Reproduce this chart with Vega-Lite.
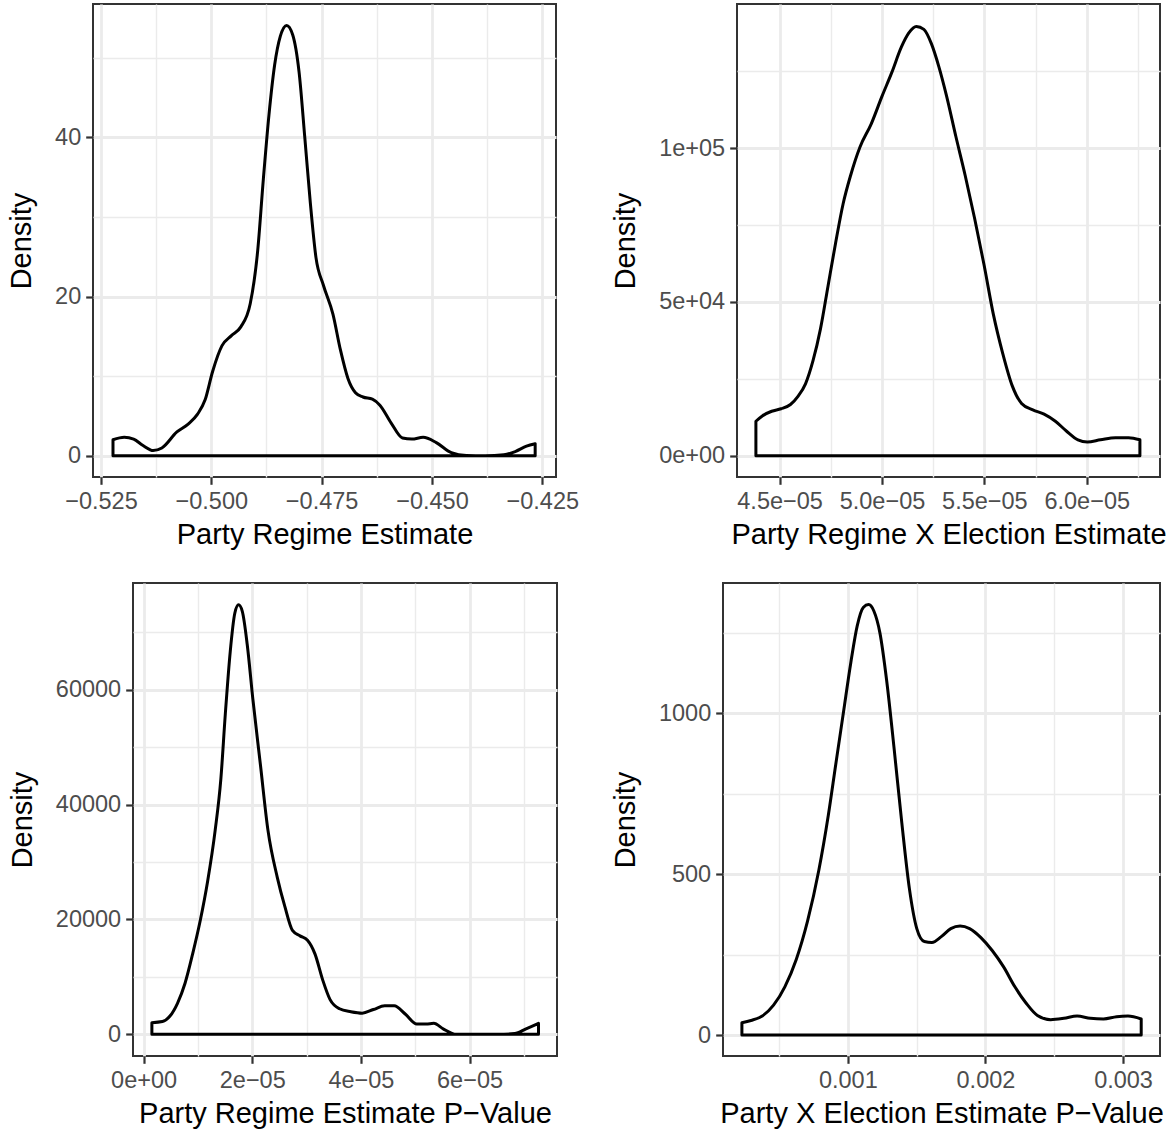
{
  "$schema": "https://vega.github.io/schema/vega-lite/v6.json",
  "padding": {"left": 6, "top": 3, "right": 0, "bottom": 0},
  "background": "white",
  "config": {
    "font": "Liberation Sans",
    "view": {"stroke": "#333333", "strokeWidth": 2},
    "axis": {
      "domain": false, "grid": true, "gridColor": "#EBEBEB",
      "tickColor": "#333333", "tickWidth": 2.2, "tickSize": 7.3,
      "labelColor": "#4D4D4D", "labelFontSize": 23.5, "labelPadding": 5,
      "labelFont": "Liberation Sans", "titleFont": "Liberation Sans",
      "titleFontSize": 29, "titleColor": "#000000", "titleFontWeight": "normal",
      "labelOverlap": false, "labelFlush": false
    },
    "axisX": {"titlePadding": 8},
    "axisY": {"titlePadding": 18}
  },
  "datasets": {
    "p1": [
      {"x": -0.52227, "density": 2.02}, {"x": -0.51972, "density": 2.33}, {"x": -0.51759, "density": 2.1},
      {"x": -0.51546, "density": 1.3}, {"x": -0.51316, "density": 0.67}, {"x": -0.5112, "density": 0.99},
      {"x": -0.50779, "density": 3.0}, {"x": -0.50524, "density": 3.99}, {"x": -0.50311, "density": 5.24},
      {"x": -0.5014, "density": 7.03}, {"x": -0.4997, "density": 10.6}, {"x": -0.49757, "density": 13.84},
      {"x": -0.49544, "density": 15.1}, {"x": -0.49331, "density": 16.2}, {"x": -0.49118, "density": 19.1},
      {"x": -0.48948, "density": 25.8}, {"x": -0.4882, "density": 34.8}, {"x": -0.48692, "density": 42.9},
      {"x": -0.48565, "density": 49.1}, {"x": -0.48437, "density": 52.7}, {"x": -0.48292, "density": 54.07},
      {"x": -0.48156, "density": 52.9}, {"x": -0.48011, "density": 48.2}, {"x": -0.47883, "density": 40.1},
      {"x": -0.47755, "density": 31.7}, {"x": -0.47628, "density": 24.9}, {"x": -0.47458, "density": 21.4},
      {"x": -0.47244, "density": 17.8}, {"x": -0.47074, "density": 13.3}, {"x": -0.46904, "density": 9.72},
      {"x": -0.46733, "density": 7.93}, {"x": -0.46563, "density": 7.39}, {"x": -0.4635, "density": 7.12},
      {"x": -0.4618, "density": 6.36}, {"x": -0.45924, "density": 4.12}, {"x": -0.45669, "density": 2.24},
      {"x": -0.45456, "density": 2.1}, {"x": -0.452, "density": 2.33}, {"x": -0.44902, "density": 1.66},
      {"x": -0.44561, "density": 0.4}, {"x": -0.4422, "density": 0.04}, {"x": -0.43795, "density": 0.0},
      {"x": -0.4337, "density": 0.13}, {"x": -0.43113, "density": 0.54}, {"x": -0.42858, "density": 1.21},
      {"x": -0.42662, "density": 1.52}
    ],
    "p2": [
      {"x": 4.3844e-5, "density": 11227}, {"x": 4.4156e-5, "density": 12963}, {"x": 4.4615e-5, "density": 14468},
      {"x": 4.5073e-5, "density": 15278}, {"x": 4.5532e-5, "density": 16667}, {"x": 4.5899e-5, "density": 19329},
      {"x": 4.6266e-5, "density": 23380}, {"x": 4.6633e-5, "density": 30903}, {"x": 4.7e-5, "density": 41319},
      {"x": 4.7367e-5, "density": 55208}, {"x": 4.7734e-5, "density": 69097}, {"x": 4.8101e-5, "density": 81829},
      {"x": 4.8468e-5, "density": 91088}, {"x": 4.8927e-5, "density": 100347}, {"x": 4.9477e-5, "density": 107870},
      {"x": 5.0e-5, "density": 116782}, {"x": 5.0486e-5, "density": 124653}, {"x": 5.0945e-5, "density": 132754},
      {"x": 5.1312e-5, "density": 137384}, {"x": 5.1679e-5, "density": 139467}, {"x": 5.2046e-5, "density": 138542},
      {"x": 5.2413e-5, "density": 133912}, {"x": 5.278e-5, "density": 126389}, {"x": 5.3147e-5, "density": 117130},
      {"x": 5.3606e-5, "density": 103819}, {"x": 5.4064e-5, "density": 91088}, {"x": 5.4523e-5, "density": 77199},
      {"x": 5.4982e-5, "density": 62153}, {"x": 5.544e-5, "density": 45949}, {"x": 5.5899e-5, "density": 33218},
      {"x": 5.6358e-5, "density": 22801}, {"x": 5.6817e-5, "density": 17014}, {"x": 5.7367e-5, "density": 14931},
      {"x": 5.7917e-5, "density": 13542}, {"x": 5.8468e-5, "density": 11227}, {"x": 5.9018e-5, "density": 7986},
      {"x": 5.9569e-5, "density": 5208}, {"x": 6.0028e-5, "density": 4514}, {"x": 6.067e-5, "density": 5208},
      {"x": 6.1404e-5, "density": 5903}, {"x": 6.2046e-5, "density": 5903}, {"x": 6.2596e-5, "density": 5208}
    ],
    "p3": [
      {"x": 1.526e-6, "density": 2032}, {"x": 3.47e-6, "density": 2222}, {"x": 4.86e-6, "density": 3175},
      {"x": 6.24e-6, "density": 5397}, {"x": 7.63e-6, "density": 8889}, {"x": 9.02e-6, "density": 13968},
      {"x": 1.040e-5, "density": 19682}, {"x": 1.179e-5, "density": 26666}, {"x": 1.318e-5, "density": 35555},
      {"x": 1.422e-5, "density": 44443}, {"x": 1.505e-5, "density": 55871}, {"x": 1.595e-5, "density": 66665},
      {"x": 1.679e-5, "density": 73331}, {"x": 1.748e-5, "density": 74792}, {"x": 1.817e-5, "density": 73649},
      {"x": 1.907e-5, "density": 67934}, {"x": 2.011e-5, "density": 58411}, {"x": 2.150e-5, "density": 46983},
      {"x": 2.289e-5, "density": 35555}, {"x": 2.462e-5, "density": 27301}, {"x": 2.601e-5, "density": 22222},
      {"x": 2.740e-5, "density": 18095}, {"x": 2.879e-5, "density": 17142}, {"x": 3.017e-5, "density": 16380},
      {"x": 3.156e-5, "density": 13968}, {"x": 3.295e-5, "density": 9524}, {"x": 3.433e-5, "density": 6032},
      {"x": 3.607e-5, "density": 4444}, {"x": 3.815e-5, "density": 3936}, {"x": 4.023e-5, "density": 3682},
      {"x": 4.231e-5, "density": 4317}, {"x": 4.439e-5, "density": 4952}, {"x": 4.613e-5, "density": 4952},
      {"x": 4.821e-5, "density": 3492}, {"x": 5.029e-5, "density": 1778}, {"x": 5.202e-5, "density": 1778},
      {"x": 5.341e-5, "density": 1905}, {"x": 5.514e-5, "density": 952}, {"x": 5.757e-5, "density": 0},
      {"x": 6.104e-5, "density": 0}, {"x": 6.52e-5, "density": 0}, {"x": 6.832e-5, "density": 127},
      {"x": 7.04e-5, "density": 952}, {"x": 7.269e-5, "density": 1905}
    ],
    "p4": [
      {"x": 0.00023, "density": 38.5}, {"x": 0.000296, "density": 45.4}, {"x": 0.000378, "density": 59},
      {"x": 0.00046, "density": 93}, {"x": 0.000542, "density": 150}, {"x": 0.000625, "density": 235},
      {"x": 0.000707, "density": 354}, {"x": 0.000789, "density": 512}, {"x": 0.000858, "density": 683},
      {"x": 0.000912, "density": 841}, {"x": 0.000967, "density": 1000}, {"x": 0.001022, "density": 1159},
      {"x": 0.001068, "density": 1272}, {"x": 0.001112, "density": 1329}, {"x": 0.001151, "density": 1338},
      {"x": 0.001189, "density": 1318}, {"x": 0.001233, "density": 1250}, {"x": 0.001282, "density": 1102},
      {"x": 0.001337, "density": 887}, {"x": 0.001392, "density": 660}, {"x": 0.001447, "density": 456},
      {"x": 0.001501, "density": 331}, {"x": 0.001556, "density": 291}, {"x": 0.001611, "density": 288},
      {"x": 0.001679, "density": 306}, {"x": 0.001748, "density": 331}, {"x": 0.001816, "density": 339},
      {"x": 0.001885, "density": 331}, {"x": 0.001967, "density": 303}, {"x": 0.002049, "density": 263},
      {"x": 0.002132, "density": 212}, {"x": 0.002214, "density": 150}, {"x": 0.002296, "density": 99},
      {"x": 0.002378, "density": 61}, {"x": 0.002474, "density": 48}, {"x": 0.00257, "density": 52},
      {"x": 0.002666, "density": 59}, {"x": 0.002762, "density": 52}, {"x": 0.002858, "density": 50},
      {"x": 0.002953, "density": 57}, {"x": 0.003036, "density": 59}, {"x": 0.003132, "density": 50}
    ]
  },
  "vconcat": [
    {
      "hconcat": [
        {
          "width": 463, "height": 473,
          "data": {"name": "p1"},
          "mark": {"type": "area", "fill": "transparent", "stroke": "#000000", "strokeWidth": 3, "interpolate": "monotone", "strokeJoin": "round"},
          "encoding": {
            "x": {"field": "x", "type": "quantitative", "title": "Party Regime Estimate",
              "scale": {"domain": [-0.5268, -0.4219], "nice": false, "zero": false},
              "axis": {"values": [-0.525, -0.5125, -0.5, -0.4875, -0.475, -0.4625, -0.45, -0.4375, -0.425],
                "labelExpr": "abs(datum.value*40 - round(datum.value*40)) < 0.01 ? replace(format(datum.value, '.3f'), '-', '\u2212') : ''",
                "gridWidth": {"condition": {"test": "abs(datum.value*40 - round(datum.value*40)) < 0.01", "value": 2.8}, "value": 1.4},
                "tickOpacity": {"condition": {"test": "abs(datum.value*40 - round(datum.value*40)) < 0.01", "value": 1}, "value": 0}}},
            "y": {"field": "density", "type": "quantitative", "title": "Density",
              "scale": {"domain": [-2.66, 56.76], "nice": false, "zero": false},
              "axis": {"values": [0, 10, 20, 30, 40, 50],
                "labelExpr": "datum.value % 20 == 0 ? format(datum.value, 'd') : ''",
                "gridWidth": {"condition": {"test": "datum.value % 20 == 0", "value": 2.8}, "value": 1.4},
                "tickOpacity": {"condition": {"test": "datum.value % 20 == 0", "value": 1}, "value": 0}}},
            "y2": {"datum": 0}
          }
        },
        {
          "width": 423, "height": 473,
          "data": {"name": "p2"},
          "mark": {"type": "area", "fill": "transparent", "stroke": "#000000", "strokeWidth": 3, "interpolate": "monotone", "strokeJoin": "round"},
          "encoding": {
            "x": {"field": "x", "type": "quantitative", "title": "Party Regime X Election Estimate",
              "scale": {"domain": [4.2921e-5, 6.3577e-5], "nice": false, "zero": false},
              "axis": {"values": [4.5e-5, 4.75e-5, 5.0e-5, 5.25e-5, 5.5e-5, 5.75e-5, 6.0e-5, 6.25e-5],
                "labelExpr": "abs(datum.value*2e5 - round(datum.value*2e5)) < 0.01 ? format(datum.value*1e5, '.1f') + 'e\u221205' : ''",
                "gridWidth": {"condition": {"test": "abs(datum.value*2e5 - round(datum.value*2e5)) < 0.01", "value": 2.8}, "value": 1.4},
                "tickOpacity": {"condition": {"test": "abs(datum.value*2e5 - round(datum.value*2e5)) < 0.01", "value": 1}, "value": 0}}},
            "y": {"field": "density", "type": "quantitative", "title": "Density",
              "scale": {"domain": [-6890, 146800], "nice": false, "zero": false},
              "axis": {"values": [0, 25000, 50000, 75000, 100000, 125000],
                "labelExpr": "datum.value == 0 ? '0e+00' : datum.value == 50000 ? '5e+04' : datum.value == 100000 ? '1e+05' : ''",
                "gridWidth": {"condition": {"test": "datum.value % 50000 == 0", "value": 2.8}, "value": 1.4},
                "tickOpacity": {"condition": {"test": "datum.value % 50000 == 0", "value": 1}, "value": 0}}},
            "y2": {"datum": 0}
          }
        }
      ],
      "spacing": 181,
      "bounds": "flush"
    },
    {
      "hconcat": [
        {
          "width": 40, "height": 473,
          "view": {"stroke": null},
          "data": {"values": [{"s": 0}]},
          "mark": {"type": "point", "opacity": 0},
          "encoding": {"x": {"value": 0}, "y": {"value": 0}}
        },
        {
          "width": 424, "height": 473,
          "data": {"name": "p3"},
          "mark": {"type": "area", "fill": "transparent", "stroke": "#000000", "strokeWidth": 3, "interpolate": "monotone", "strokeJoin": "round"},
          "encoding": {
            "x": {"field": "x", "type": "quantitative", "title": "Party Regime Estimate P\u2212Value",
              "scale": {"domain": [-1.95e-6, 7.61e-5], "nice": false, "zero": false},
              "axis": {"values": [0, 1e-5, 2e-5, 3e-5, 4e-5, 5e-5, 6e-5, 7e-5],
                "labelExpr": "abs(datum.value*0.5e5 - round(datum.value*0.5e5)) < 0.01 ? (datum.value == 0 ? '0e+00' : format(datum.value*1e5, '.0f') + 'e\u221205') : ''",
                "gridWidth": {"condition": {"test": "abs(datum.value*0.5e5 - round(datum.value*0.5e5)) < 0.01", "value": 2.8}, "value": 1.4},
                "tickOpacity": {"condition": {"test": "abs(datum.value*0.5e5 - round(datum.value*0.5e5)) < 0.01", "value": 1}, "value": 0}}},
            "y": {"field": "density", "type": "quantitative", "title": "Density",
              "scale": {"domain": [-3780, 78600], "nice": false, "zero": false},
              "axis": {"values": [0, 10000, 20000, 30000, 40000, 50000, 60000, 70000],
                "labelExpr": "datum.value % 20000 == 0 ? format(datum.value, 'd') : ''",
                "gridWidth": {"condition": {"test": "datum.value % 20000 == 0", "value": 2.8}, "value": 1.4},
                "tickOpacity": {"condition": {"test": "datum.value % 20000 == 0", "value": 1}, "value": 0}}},
            "y2": {"datum": 0}
          }
        },
        {
          "width": 166, "height": 473,
          "view": {"stroke": null},
          "data": {"values": [{"s": 0}]},
          "mark": {"type": "point", "opacity": 0},
          "encoding": {"x": {"value": 0}, "y": {"value": 0}}
        },
        {
          "width": 437, "height": 473,
          "data": {"name": "p4"},
          "mark": {"type": "area", "fill": "transparent", "stroke": "#000000", "strokeWidth": 3, "interpolate": "monotone", "strokeJoin": "round"},
          "encoding": {
            "x": {"field": "x", "type": "quantitative", "title": "Party X Election Estimate P\u2212Value",
              "scale": {"domain": [0.0000926, 0.0032686], "nice": false, "zero": false},
              "axis": {"values": [0.0005, 0.001, 0.0015, 0.002, 0.0025, 0.003],
                "labelExpr": "abs(datum.value*1000 - round(datum.value*1000)) < 0.01 ? format(datum.value, '.3f') : ''",
                "gridWidth": {"condition": {"test": "abs(datum.value*1000 - round(datum.value*1000)) < 0.01", "value": 2.8}, "value": 1.4},
                "tickOpacity": {"condition": {"test": "abs(datum.value*1000 - round(datum.value*1000)) < 0.01", "value": 1}, "value": 0}}},
            "y": {"field": "density", "type": "quantitative", "title": "Density",
              "scale": {"domain": [-65, 1405], "nice": false, "zero": false},
              "axis": {"values": [0, 250, 500, 750, 1000, 1250],
                "labelExpr": "datum.value % 500 == 0 ? format(datum.value, 'd') : ''",
                "gridWidth": {"condition": {"test": "datum.value % 500 == 0", "value": 2.8}, "value": 1.4},
                "tickOpacity": {"condition": {"test": "datum.value % 500 == 0", "value": 1}, "value": 0}}},
            "y2": {"datum": 0}
          }
        }
      ],
      "spacing": 0,
      "bounds": "flush"
    }
  ],
  "spacing": 29,
  "bounds": "full"
}
